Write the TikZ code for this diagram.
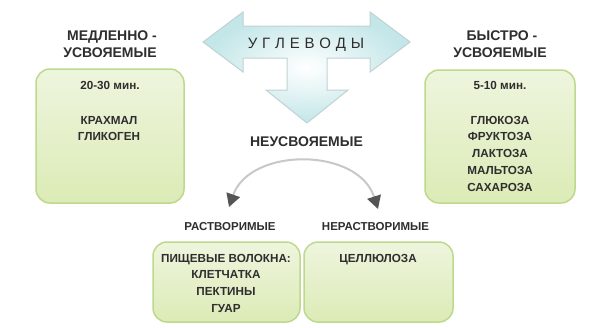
\documentclass[tikz,border=0pt]{standalone}
\usepackage{fontspec}
\setmainfont{Liberation Sans}
\usetikzlibrary{arrows.meta,shadings}
\definecolor{txt}{HTML}{2E2E2E}
\definecolor{boxline}{HTML}{BCD98D}
\definecolor{boxtop}{HTML}{EEF5DE}
\definecolor{boxbot}{HTML}{DCEBB6}
\definecolor{arrline}{HTML}{BFD3D4}
\definecolor{arrfill}{HTML}{C3E6E8}
\definecolor{arcline}{HTML}{C8C8C8}
\definecolor{archead}{HTML}{555555}
\begin{document}
\begin{tikzpicture}[x=1pt,y=-1pt,
  title/.style={anchor=base,inner sep=0pt,text=txt,font=\fontsize{14}{16}\selectfont\bfseries},
  item/.style={anchor=base,inner sep=0pt,text=txt,font=\fontsize{11.7}{14}\selectfont\bfseries},
  sub/.style={anchor=base,inner sep=0pt,text=txt,font=\fontsize{11.5}{14}\selectfont\bfseries},
  gbox/.style={draw=boxline,line width=1.5pt,rounded corners=14pt,top color=boxtop,bottom color=boxbot},
  arc/.style={draw=arcline,line width=2pt,{Triangle[length=13pt,width=14pt,color=archead]}-{Triangle[length=13pt,width=14pt,color=archead]}}
]
\useasboundingbox (0,0) rectangle (604,327);
\fill[white] (0,0) rectangle (604,327);
% big arrow
\path[draw=arrline,line width=1pt,inner color=white,outer color=arrfill]
  (203,42) -- (243,12) -- (243,26) -- (370,26) -- (370,12) -- (410,42)
  -- (370,72) -- (370,58) -- (327,58) -- (327,90) -- (348,90) -- (307,123)
  -- (266,90) -- (287,90) -- (287,58) -- (243,58) -- (243,72) -- cycle;
\node[anchor=base,inner sep=0pt,text=txt,font=\fontsize{15}{17}\selectfont] (ugl) at (306,48.5)
  {У\kern4.8ptГ\kern4.8ptЛ\kern4.8ptЕ\kern4.8ptВ\kern4.8ptО\kern4.8ptД\kern4.8ptЫ};
% boxes
\path[gbox] (36,69) rectangle (184,203);
\path[gbox] (425,70) rectangle (575,203);
\path[gbox] (153,242) rectangle (300,322);
\path[gbox] (304,242) rectangle (453,322);
% left titles
\node[title] (t1a) at (112,40) {МЕДЛЕННО -};
\node[title] (t1b) at (110,57) {УСВОЯЕМЫЕ};
\node[item] (l1) at (110,89) {20-30 мин.};
\node[item] (l2) at (109,124) {КРАХМАЛ};
\node[item] (l3) at (109,140) {ГЛИКОГЕН};
% right titles
\node[title] (t2a) at (502,40) {БЫСТРО -};
\node[title] (t2b) at (500,57) {УСВОЯЕМЫЕ};
\node[item] (r1) at (500,89) {5-10 мин.};
\node[item] (r2) at (500,124) {ГЛЮКОЗА};
\node[item] (r3) at (500,140.75) {ФРУКТОЗА};
\node[item] (r4) at (500,157.5) {ЛАКТОЗА};
\node[item] (r5) at (500,174.25) {МАЛЬТОЗА};
\node[item] (r6) at (500,191) {САХАРОЗА};
% middle
\node[title] (neu) at (306.5,146) {НЕУСВОЯЕМЫЕ};
\coordinate (cl) at (229,207);
\coordinate (cr) at (378,209);
\draw[arc] (cl) .. controls (250,147) and (358,147) .. (cr);
\node[sub] (rast) at (230,230) {РАСТВОРИМЫЕ};
\node[sub] (nerast) at (375.5,230) {НЕРАСТВОРИМЫЕ};
\node[item] (b1) at (226,262) {ПИЩЕВЫЕ ВОЛОКНА:};
\node[item] (b2) at (226,278.5) {КЛЕТЧАТКА};
\node[item] (b3) at (226,295.5) {ПЕКТИНЫ};
\node[item] (b4) at (226,312.5) {ГУАР};
\node[item] (c1) at (378,262) {ЦЕЛЛЮЛОЗА};
\end{tikzpicture}
\end{document}
